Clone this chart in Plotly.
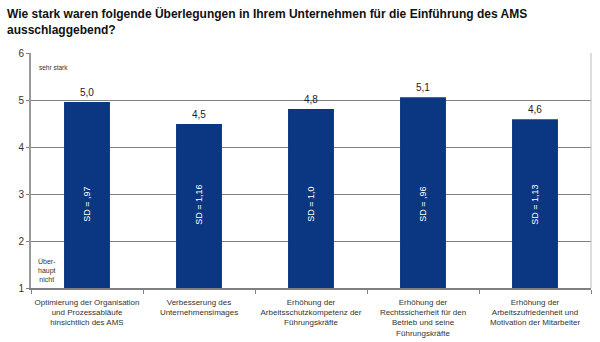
import plotly.graph_objects as go

categories = [
    "Optimierung der Organisation<br>und Prozessabläufe<br>hinsichtlich des AMS",
    "Verbesserung des<br>Unternehmensimages",
    "Erhöhung der<br>Arbeitsschutzkompetenz der<br>Führungskräfte",
    "Erhöhung der<br>Rechtssicherheit für den<br>Betrieb und seine<br>Führungskräfte",
    "Erhöhung der<br>Arbeitszufriedenheit und<br>Motivation der Mitarbeiter",
]
values = [4.96, 4.49, 4.81, 5.06, 4.59]
value_labels = ["5,0", "4,5", "4,8", "5,1", "4,6"]
sd_labels = ["SD = ,97", "SD = 1,16", "SD = 1,0", "SD = ,96", "SD = 1,13"]
y_ticks = [1, 2, 3, 4, 5, 6]

FONT = "Liberation Sans, Arial, sans-serif"
BAR = "#0a3682"

fig = go.Figure()
fig.add_trace(go.Bar(
    x=categories, y=values, marker=dict(color=BAR, line=dict(width=0)),
    width=0.41, hoverinfo="skip",
))

ann = []
for c, v, lab, sd in zip(categories, values, value_labels, sd_labels):
    ann.append(dict(x=c, y=v, text=lab, showarrow=False, yanchor="bottom", yshift=2,
                    font=dict(family=FONT, size=10, color="#222")))
    ann.append(dict(x=c, y=2.77, text=sd, showarrow=False, textangle=-90,
                    font=dict(family=FONT, size=9, color="white")))
ann.append(dict(xref="paper", x=0.01, y=5.7, text="sehr stark", showarrow=False,
                xanchor="left", font=dict(family=FONT, size=6.5, color="#333")))
ann.append(dict(xref="paper", x=0.029, y=1.06, text="Über-<br>haupt<br>nicht", showarrow=False,
                xanchor="center", yanchor="bottom", font=dict(family=FONT, size=7, color="#333")))
ann.append(dict(xref="paper", yref="paper", x=-0.046, y=1.21, xanchor="left", yanchor="top",
                align="left", showarrow=False,
                text="<b>Wie stark waren folgende Überlegungen in Ihrem Unternehmen für die Einführung des AMS<br>ausschlaggebend?</b>",
                font=dict(family=FONT, size=12, color="#111")))

fig.update_layout(
    width=600, height=342,
    margin=dict(l=31, r=9, t=53, b=54, autoexpand=False),
    paper_bgcolor="white", plot_bgcolor="white",
    showlegend=False,
    annotations=ann,
    xaxis=dict(
        type="category", tickson="boundaries", ticks="outside", ticklen=4,
        tickcolor="#808080", showline=True, linecolor="#808080", linewidth=2,
        tickfont=dict(family=FONT, size=8, color="#333"), tickangle=0,
        ticklabelstandoff=5,
        showgrid=False, automargin=False,
    ),
    yaxis=dict(
        range=[1, 6], tickvals=y_ticks, showgrid=True, gridcolor="#808080", gridwidth=1,
        showline=True, linecolor="#999", linewidth=2, ticks="outside", ticklen=3,
        tickcolor="#808080", tickfont=dict(family=FONT, size=10, color="#333"),
        zeroline=False, automargin=False,
    ),
    shapes=[dict(type="line", xref="paper", yref="paper", x0=1, x1=1, y0=0, y1=1,
                 line=dict(color="#bbb", width=1))],
)

fig.write_html("out.html")
